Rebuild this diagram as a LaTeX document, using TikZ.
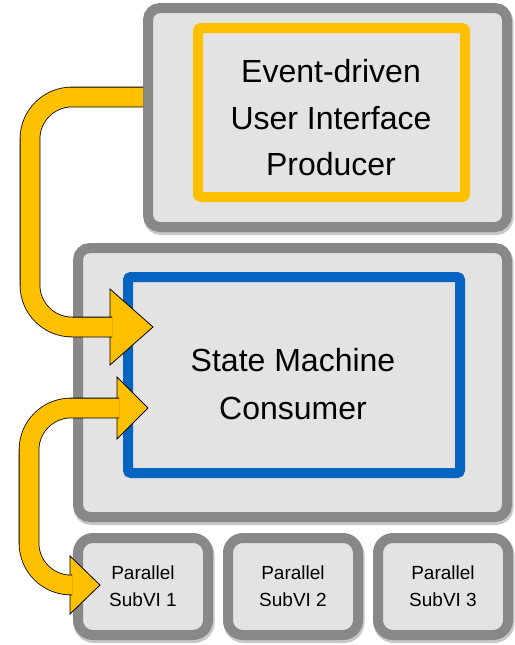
\documentclass[tikz,border=0pt]{standalone}
\usepackage{fontspec}
\setmainfont{Liberation Sans}
\usetikzlibrary{calc}
\definecolor{boxgray}{HTML}{888888}
\definecolor{boxfill}{HTML}{E3E3E3}
\definecolor{ayellow}{HTML}{FFC000}
\definecolor{ablue}{HTML}{0563C1}
\begin{document}
\begin{tikzpicture}[x=1pt,y=-1pt,
  outerbox/.style={draw=boxgray, fill=boxfill, line width=10pt, rounded corners=12pt,
    inner sep=0pt, outer sep=0pt,
    preaction={draw=black!22, line width=11pt, transform canvas={shift={(1pt,-2.5pt)}}}},
  subbox/.style={outerbox, rounded corners=15pt, minimum width=130pt, minimum height=97pt,
    font=\fontsize{19}{27}\selectfont, align=center},
  innerbox/.style={line width=10pt, inner sep=0pt, outer sep=0pt, rounded corners=3pt},
  band/.style={draw=black, line width=0.8pt, double=ayellow, double distance=19pt,
    rounded corners=42pt},
  head/.style={fill=ayellow, draw=black, line width=0.8pt, line join=miter},
  bigtext/.style={align=center, inner sep=0pt}
]
\useasboundingbox (0,0) rectangle (514,645);

% boxes
\node[outerbox, minimum width=359pt, minimum height=219pt] (prod) at (327.5,117.5) {};
\node[innerbox, draw=ayellow, minimum width=267pt, minimum height=169pt] (ylw) at (331.5,112.5) {};
\node[bigtext, font=\fontsize{32}{46.5}\selectfont] (prodtext) at (331,118)
  {Event-driven\\User Interface\\Producer};

\node[outerbox, minimum width=429pt, minimum height=269pt] (cons) at (292.5,382.5) {};
\node[innerbox, draw=ablue, minimum width=332pt, minimum height=196pt] (blue) at (294,375) {};
\node[bigtext, font=\fontsize{32}{48}\selectfont] (constext) at (293,384)
  {State Machine\\Consumer};

\node[subbox] (sub1) at (143,586.5) {Parallel\\SubVI 1};
\node[subbox] (sub2) at (293,586.5) {Parallel\\SubVI 2};
\node[subbox] (sub3) at (443,586.5) {Parallel\\SubVI 3};

% arrow 1: producer -> consumer
\coordinate (a1s) at ($(prod.west)+(-5,-20.5)$);
\coordinate (h1) at ($(blue.west)+(-18,-48)$);
\draw[head] ($(h1)+(0,-38)$) -- ($(h1)+(43,0)$) -- ($(h1)+(0,38)$) -- cycle;
\draw[band] (a1s) -- ++(-113,0) |- ($(h1)+(2,0)$);

% arrow 2: consumer <-> subVI 1
\coordinate (h2a) at ($(blue.west)+(-11,33)$);
\coordinate (h2b) at ($(sub1.west)+(-8,-1.5)$);
\draw[head] ($(h2a)+(0,-31)$) -- ($(h2a)+(31,0)$) -- ($(h2a)+(0,31)$) -- cycle;
\draw[head] ($(h2b)+(0,-29)$) -- ($(h2b)+(30,0)$) -- ($(h2b)+(0,29)$) -- cycle;
\draw[band] ($(h2a)+(2,0)$) -- ++(-90,0) |- ($(h2b)+(2,0)$);
\end{tikzpicture}
\end{document}
